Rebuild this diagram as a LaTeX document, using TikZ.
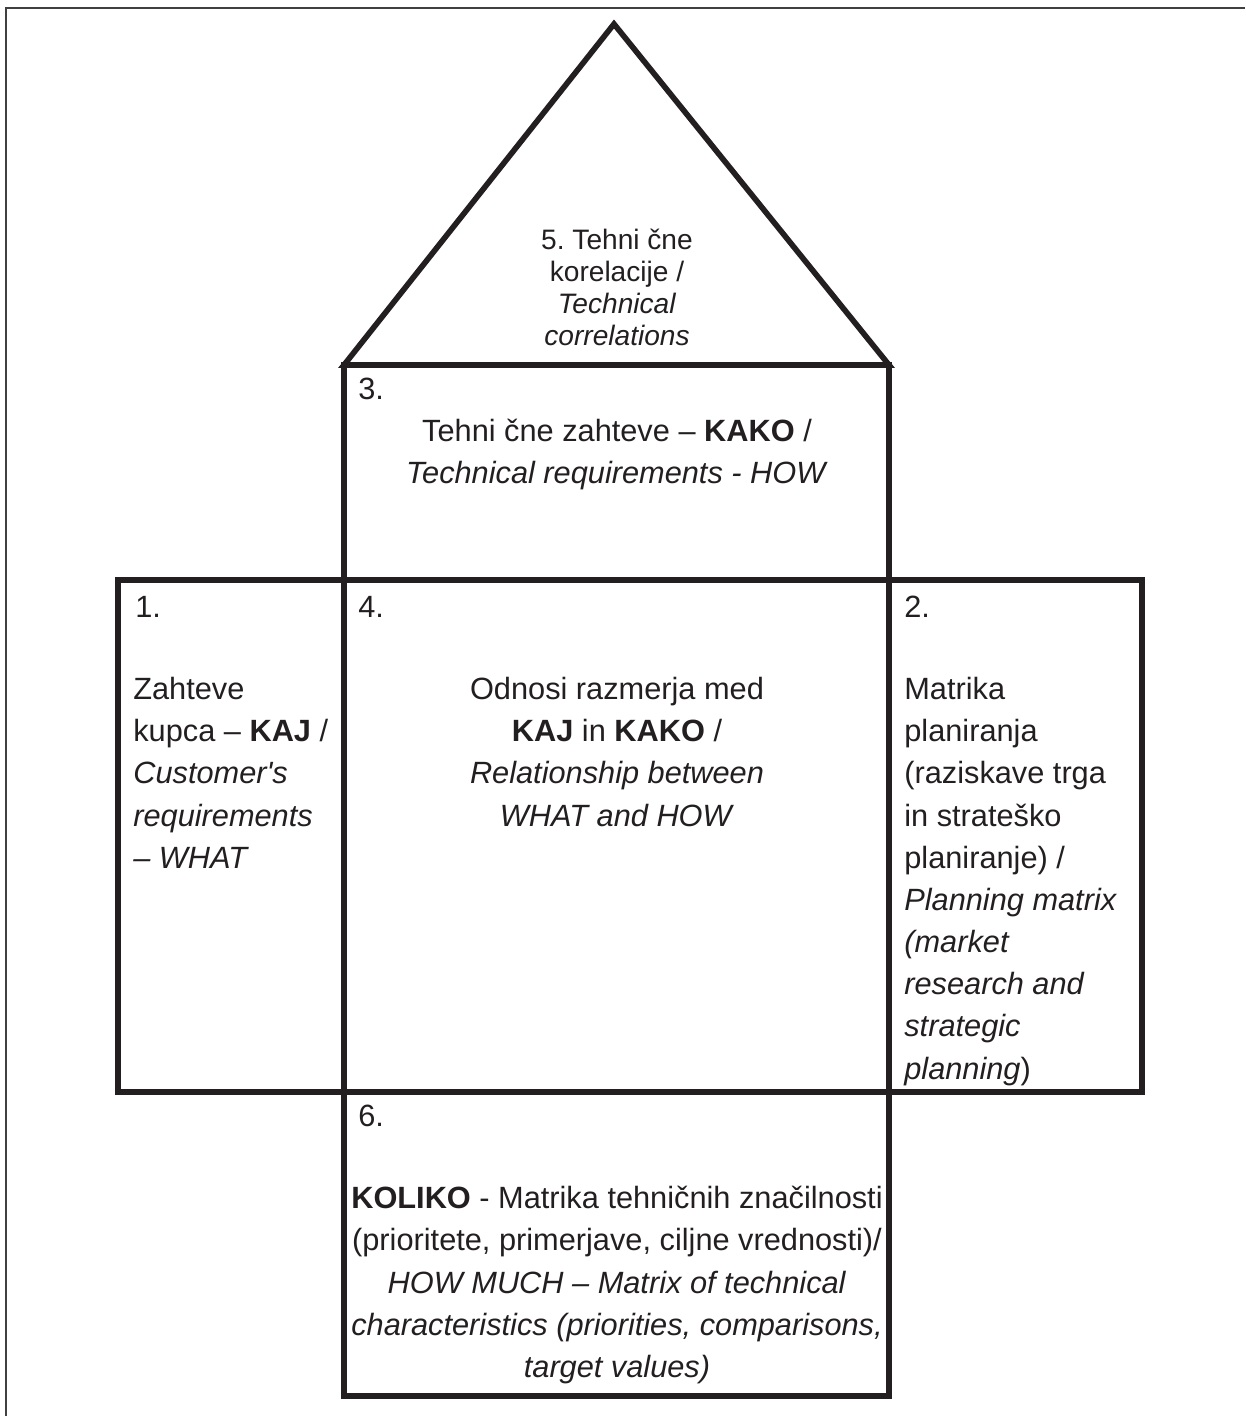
\documentclass[tikz,border=0pt]{standalone}
\usepackage{fontspec}
\setmainfont{Liberation Sans}
\usepackage{tikz}
\definecolor{ink}{RGB}{35,31,32}
\def\lw{3.2pt}
\frenchspacing

\tikzset{
  wall/.style={draw=ink, line width=\lw, line join=miter},
  num/.style={anchor=north west, inner sep=0pt, text=ink, font=\fontsize{17.5}{24}\selectfont},
  txt/.style={inner sep=0pt, text=ink, font=\fontsize{17.5}{24}\selectfont},
  roof/.style={inner sep=0pt, text=ink, font=\fontsize{16}{18.2}\selectfont}
}

\begin{document}
\begin{tikzpicture}[x=0.02cm, y=-0.02cm]
            \useasboundingbox (0,0) rectangle (1245,1416);
            \draw[black!75, line width=0.9pt] (6,1416) -- (6,8) -- (1245,8);

            % corners of the house
            \coordinate (apex) at (614,24);
            \coordinate (rl) at (344,365);
            \coordinate (rr) at (889,365);

            \draw[wall] (rl) -- (apex) -- (rr) -- cycle;
            \draw[wall] (rl) rectangle (889,580);
            \draw[wall] (118,580) rectangle (1142,1092);
            \draw[wall] (344,580) -- (344,1396) -- (889,1396) -- (889,580);

            \node[roof, anchor=north, align=center] (t5) at (617,229) {5. Tehni čne\\korelacije /\\\textit{Technical}\\\textit{correlations}};

            \node[num] (n3) at (358,378) {3.};
            \node[txt, anchor=north, align=center] (t3) at (617,419) {Tehni čne zahteve – \textbf{KAKO} /\\\textit{Technical requirements - HOW}};

            \node[num] (n1) at (135,596) {1.};
            \node[txt, anchor=north west, align=left] (t1) at (133,677) {Zahteve\\kupca – \textbf{KAJ} /\\\textit{Customer\textquotesingle s}\\\textit{requirements}\\\textit{– WHAT}};

            \node[num] (n4) at (358,596) {4.};
            \node[txt, anchor=north, align=center] (t4) at (617,677) {Odnosi razmerja med\\\textbf{KAJ} in \textbf{KAKO} /\\\textit{Relationship between}\\\textit{WHAT and HOW}};

            \node[num] (n2) at (904,596) {2.};
            \node[txt, anchor=north west, align=left] (t2) at (904,677) {Matrika\\planiranja\\(raziskave trga\\in strateško\\planiranje) /\\\textit{Planning matrix}\\\textit{(market}\\\textit{research and}\\\textit{strategic}\\\textit{planning})};

            \node[num] (n6) at (358,1105) {6.};
            \node[txt, anchor=north, align=center] (t6) at (617,1186) {\textbf{KOLIKO} - Matrika tehničnih značilnosti\\(prioritete, primerjave, ciljne vrednosti)/\\\textit{HOW MUCH – Matrix of technical}\\\textit{characteristics (priorities, comparisons,}\\\textit{target values)}};
        \end{tikzpicture}
\end{document}
